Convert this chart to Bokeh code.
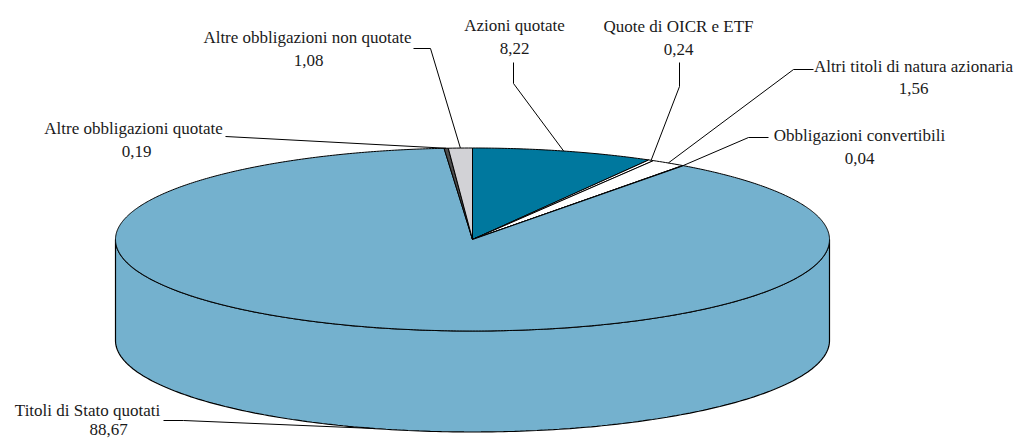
import numpy as np
from bokeh.plotting import figure
from bokeh.models import Range1d
from bokeh.core.properties import value
from bokeh.embed import file_html
from bokeh.resources import INLINE

# ---- data ----
categories = ["Azioni quotate", "Quote di OICR e ETF", "Altri titoli di natura azionaria",
              "Obbligazioni convertibili", "Titoli di Stato quotati",
              "Altre obbligazioni quotate", "Altre obbligazioni non quotate"]
values = [8.22, 0.24, 1.56, 0.04, 88.67, 0.19, 1.08]
value_labels = ["8,22", "0,24", "1,56", "0,04", "88,67", "0,19", "1,08"]
colors = ["#00789E", "#FFFFFF", "#FFFFFF", "#FFFFFF", "#74B1CE", "#4D4D4D", "#D2D2D6"]

# ---- layout (pixel space) ----
CX, CY, RX, RY, DEPTH = 472.0, 239.0, 357.0, 91.5, 101.0
# label: (x line1, baseline1, x line2, baseline2), leader elbow points (before anchor)
label_pos = [
    (514, 25, 514, 48),
    (678, 26, 678, 49),
    (913, 66, 913, 88),
    (859, 135, 859, 158),
    (87, 410, 108, 429),
    (133, 128, 136, 151),
    (307, 37, 308, 60),
]
elbows = [
    [(513, 62), (513, 83)],
    [(679, 62), (679, 86)],
    [(813, 69), (793, 69)],
    [(768, 137), (748, 137)],
    [(163, 420), (183, 420)],
    [(225, 136)],
    [(413, 48), (430, 48)],
]

p = figure(width=1020, height=439, x_range=Range1d(0, 1020), y_range=Range1d(439, 0),
           output_backend="svg", toolbar_location=None, min_border=0)
p.axis.visible = False
p.grid.visible = False
p.outline_line_color = None
p.background_fill_color = "white"
p.border_fill_color = "white"

total = sum(values)
fracs = np.array(values) / total
ends = np.cumsum(fracs) * 2 * np.pi
starts = ends - fracs * 2 * np.pi


def pt(t, dy=0.0):
    return CX + RX * np.sin(t), CY - RY * np.cos(t) + dy


# side wall (front half: theta from 90deg to 270deg), drawn per slice
for s, e, c in zip(starts, ends, colors):
    a = max(s, np.pi / 2)
    b = min(e, 3 * np.pi / 2)
    if b <= a:
        continue
    t = np.linspace(a, b, 200)
    xt, yt = pt(t)
    xb, yb = pt(t[::-1], DEPTH)
    p.patch(list(xt) + list(xb), list(yt) + list(yb), fill_color=c,
            line_color="black", line_width=1.2)

# top face slices
for s, e, c in zip(starts, ends, colors):
    n = max(3, int((e - s) / (2 * np.pi) * 720))
    t = np.linspace(s, e, n)
    xs, ys = pt(t)
    p.patch([CX] + list(xs), [CY] + list(ys), fill_color=c,
            line_color="black", line_width=1.0)

# leader lines and labels
mids = (starts + ends) / 2
for i, cat in enumerate(categories):
    m = mids[i]
    ax, ay = pt(m)
    if np.pi / 2 < m < 3 * np.pi / 2:
        ax, ay = pt(m, DEPTH)
    pts = elbows[i] + [(ax, ay)]
    p.line([q[0] for q in pts], [q[1] for q in pts], line_color="black", line_width=1.0)
    x1, y1, x2, y2 = label_pos[i]
    p.text(x=[x1], y=[y1], text=[cat], text_align="center", text_baseline="alphabetic",
           text_font=value("Liberation Serif"), text_font_size="17px", text_color="#1a1a1a")
    p.text(x=[x2], y=[y2], text=[value_labels[i]], text_align="center",
           text_baseline="alphabetic", text_font=value("Liberation Serif"),
           text_font_size="17px", text_color="#1a1a1a")

open("out.html", "w").write(file_html(p, INLINE))
